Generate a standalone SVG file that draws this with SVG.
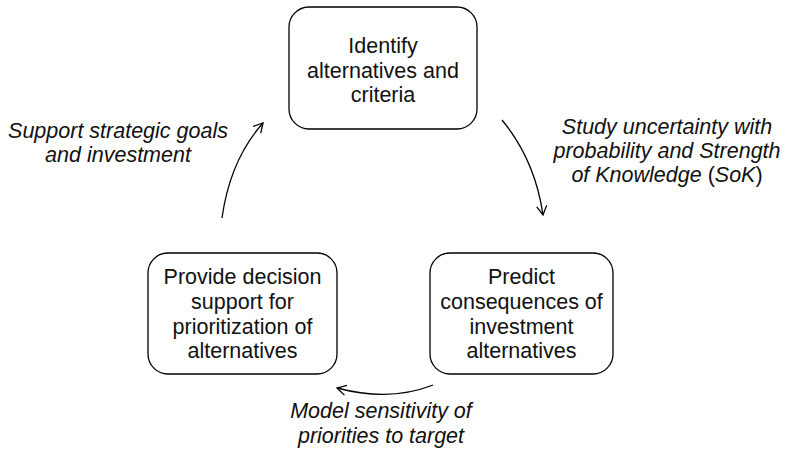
<svg xmlns="http://www.w3.org/2000/svg" width="785" height="453" viewBox="0 0 785 453">
<defs>
<style>
.box{fill:#fff;stroke:#000;stroke-width:1.3}
.t{font-family:"Liberation Sans",Arial,Helvetica,sans-serif;font-size:21.5px;fill:#111;text-anchor:middle}
.i{font-style:italic}
.c{fill:none;stroke:#000;stroke-width:1.3}
</style>
<marker id="arr" markerUnits="userSpaceOnUse" markerWidth="14" markerHeight="14" viewBox="-10 -7 12 14" refX="0" refY="0" orient="auto">
<path d="M-9,-5 L0,0 L-9,5" fill="none" stroke="#000" stroke-width="1.3"/>
</marker>
</defs>
<rect width="785" height="453" fill="#fff"/>
<g id="node-identify">
<rect class="box" x="289" y="7" width="188" height="122" rx="20"/>
<text class="t" x="383" y="53">Identify</text>
<text class="t" x="383" y="78">alternatives and</text>
<text class="t" x="383" y="102">criteria</text>
</g>
<g id="node-predict">
<rect class="box" x="430" y="253" width="183" height="121" rx="20"/>
<text class="t" x="521.5" y="284">Predict</text>
<text class="t" x="521.5" y="309">consequences of</text>
<text class="t" x="521.5" y="334">investment</text>
<text class="t" x="521.5" y="358">alternatives</text>
</g>
<g id="node-provide">
<rect class="box" x="148" y="253" width="189" height="121" rx="20"/>
<text class="t" x="242.5" y="284">Provide decision</text>
<text class="t" x="242.5" y="309">support for</text>
<text class="t" x="242.5" y="334">prioritization of</text>
<text class="t" x="242.5" y="358">alternatives</text>
</g>
<g id="connectors">
<path class="c" d="M502,120 Q535,160 543,215" marker-end="url(#arr)"/>
<path class="c" d="M433,385 Q390,402 337,388" marker-end="url(#arr)"/>
<path class="c" d="M222,218 Q230,160 263,123" marker-end="url(#arr)"/>
</g>
<g id="labels">
<text class="t i" x="667" y="134">Study uncertainty with</text>
<text class="t i" x="667" y="158">probability and Strength</text>
<text class="t i" x="667" y="182">of Knowledge <tspan font-style="normal">(</tspan>SoK<tspan font-style="normal">)</tspan></text>
<text class="t i" x="118" y="138">Support strategic goals</text>
<text class="t i" x="118" y="162">and investment</text>
<text class="t i" x="381" y="418">Model sensitivity of</text>
<text class="t i" x="381" y="443">priorities to target</text>
</g>
</svg>
